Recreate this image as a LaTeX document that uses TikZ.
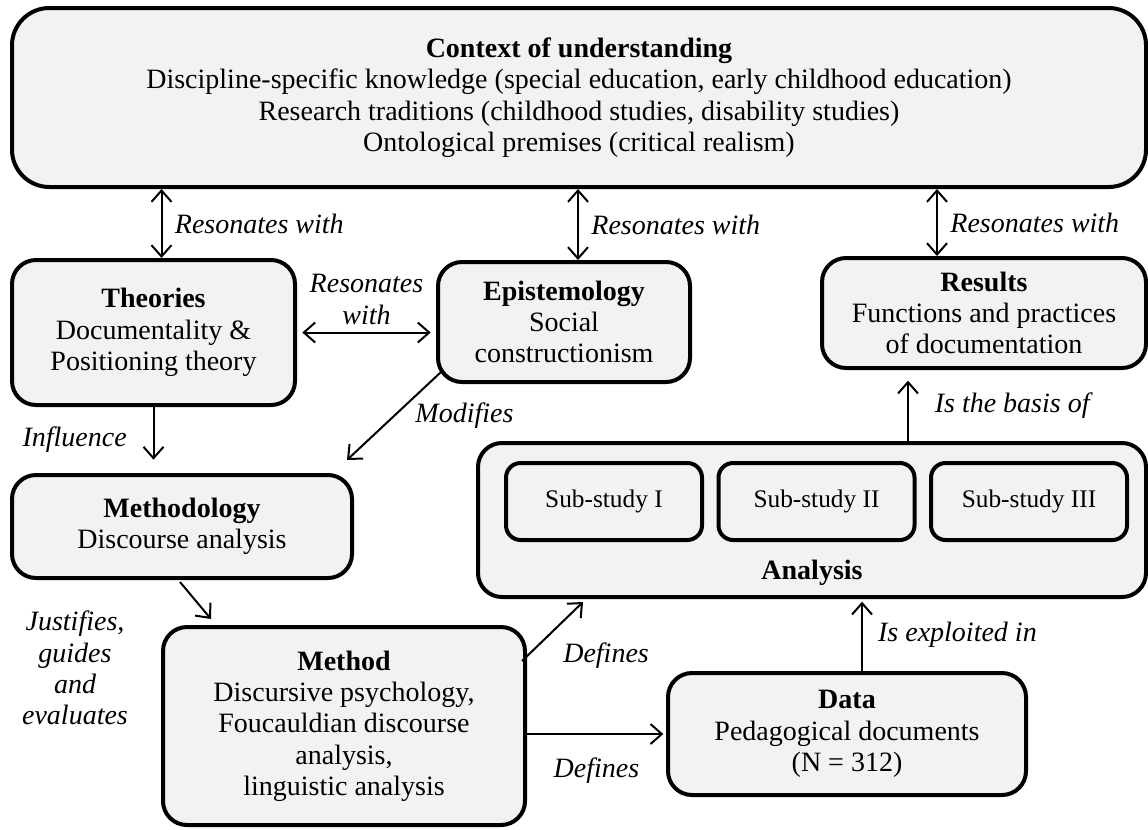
\documentclass[tikz,border=0pt]{standalone}
\usepackage{fontspec}
\setmainfont{Liberation Serif}
\usetikzlibrary{arrows.meta}
\definecolor{boxgray}{HTML}{F2F2F2}

\begin{document}
\begin{tikzpicture}[x=0.75pt,y=-0.75pt,line join=round,
   box/.style={draw,line width=3pt,rounded corners=18pt,fill=boxgray,align=center,inner sep=0pt,font=\fontsize{21}{23.5}\selectfont},
   sub/.style={box,rounded corners=11pt,minimum width=147pt,minimum height=57.75pt,font=\fontsize{19}{21}\selectfont},
   lab/.style={font=\fontsize{21}{23.5}\selectfont\itshape,align=center},
   con/.style={line width=1.5pt,-{Straight Barb[length=8.5pt,width=15pt]}},
   dcon/.style={line width=1.5pt,{Straight Barb[length=8.5pt,width=15pt]}-{Straight Barb[length=8.5pt,width=15pt]}}]
   \useasboundingbox (0,0) rectangle (1148,829);
   % boxes
   \node[box,rounded corners=28pt,minimum width=850.5pt,minimum height=134.25pt] (ctx) at (579,97.5)
      {\textbf{Context of understanding}\\Discipline-specific knowledge (special education, early childhood education)\\
       Research traditions (childhood studies, disability studies)\\Ontological premises (critical realism)};
   \node[box,minimum width=212.25pt,minimum height=108.75pt] (thr) at (153.5,332.5)
      {\textbf{Theories}\\Documentality \&\\Positioning theory};
   \node[box,minimum width=189pt,minimum height=90pt] (epi) at (564,322)
      {\textbf{Epistemology}\\Social\\constructionism};
   \node[box,minimum width=243pt,minimum height=82.5pt] (res) at (984,313)
      {\textbf{Results}\\Functions and practices\\of documentation};
   \node[box,minimum width=255pt,minimum height=77.25pt] (mdl) at (182,526.5)
      {\textbf{Methodology}\\Discourse analysis};
   \node[box,minimum width=271.5pt,minimum height=148.5pt] (mth) at (344,726)
      {\textbf{Method}\\Discursive psychology,\\Foucauldian discourse\\analysis,\\linguistic analysis};
   \node[box,minimum width=501pt,minimum height=115.5pt,
      label={[anchor=center,yshift=20pt,font=\fontsize{21}{23.5}\selectfont\bfseries]south:Analysis}] (anl) at (812,520) {};
   \node[sub] (s1) at (604,501.5) {Sub-study I};
   \node[sub] (s2) at (816.5,501.5) {Sub-study II};
   \node[sub] (s3) at (1029,501.5) {Sub-study III};
   \node[box,minimum width=268.5pt,minimum height=91.5pt] (dat) at (847,734)
      {\textbf{Data}\\Pedagogical documents\\(N = 312)};
   % connectors
   \draw[dcon] ([shift={(8,0)}]thr.north) -- ([shift={(8,0)}]thr.north |- ctx.south)
      node[lab,midway,right=6pt] {Resonates with};
   \draw[dcon] ([shift={(14,0)}]epi.north) -- ([shift={(14,0)}]epi.north |- ctx.south)
      node[lab,midway,right=6pt] {Resonates with};
   \draw[dcon] ([shift={(-47,0)}]res.north) -- ([shift={(-47,0)}]res.north |- ctx.south)
      node[lab,midway,right=6pt] {Resonates with};
   \draw[dcon,shorten <=4pt,shorten >=4pt] (thr.east) -- (thr.east -| epi.west)
      node[lab,midway,above=2pt] {Resonates\\with};
   \coordinate (mod) at ([shift={(-7,-13)}]mdl.north east);
   \draw[con] ([shift={(5,-12)}]epi.south west) -- (mod)
      node[lab,midway,right=12pt] {Modifies};
   \draw[con,shorten >=10pt] (thr.south) -- (thr.south |- mdl.north)
      node[lab,midway,left=16pt] {Influence};
   \draw[con] ([shift={(-2,2)}]mdl.south) -- ([shift={(50,-6)}]mth.north west);
   \node[lab] (jus) at (75,668) {Justifies,\\guides\\and\\evaluates};
   \draw[con] ([shift={(-5,36)}]mth.north east) -- ([shift={(107,3)}]anl.south west)
      node[lab,midway,below right=4pt] {Defines};
   \draw[con,shorten >=2pt] (dat.west -| mth.east) -- (dat.west)
      node[lab,midway,below=14pt] {Defines};
   \draw[con,shorten >=2pt] ([shift={(15,0)}]dat.north) -- ([shift={(15,0)}]dat.north |- anl.south)
      node[lab,midway,right=8pt] {Is exploited in};
   \draw[con,shorten >=8pt] ([shift={(96,0)}]anl.north) -- ([shift={(96,0)}]anl.north |- res.south)
      node[lab,midway,right=16pt] {Is the basis of};
\end{tikzpicture}
\end{document}
